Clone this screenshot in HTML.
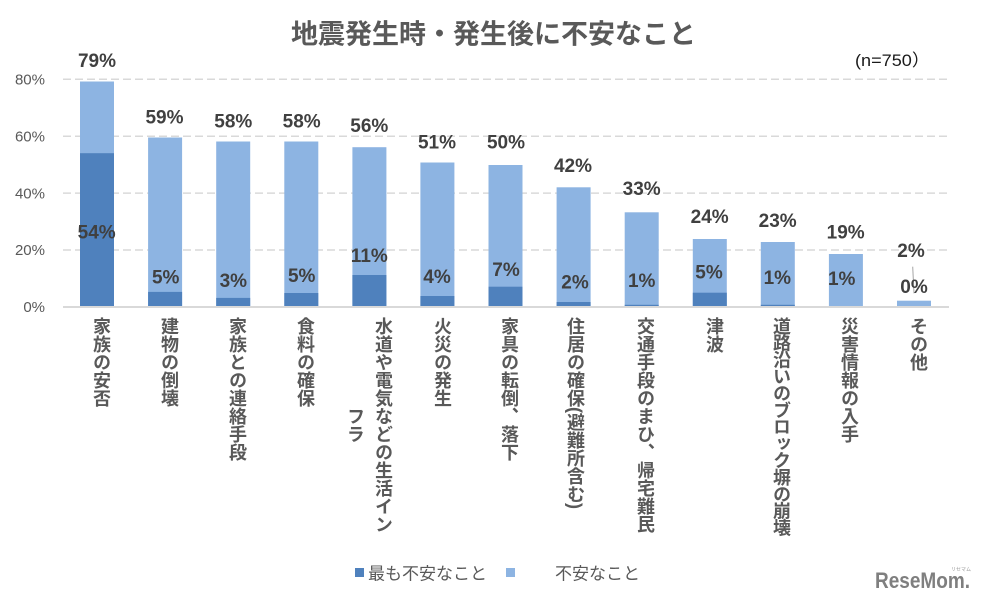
<!DOCTYPE html>
<html>
<head>
<meta charset="utf-8">
<style>
  html,body{margin:0;padding:0;background:#fff;}
  #wrap{position:relative;width:984px;height:603px;overflow:hidden;background:#fff;}
  svg{position:absolute;left:0;top:0;}
  .xl{position:absolute;top:317px;writing-mode:vertical-rl;font-family:"Liberation Sans","Noto Sans CJK JP",sans-serif;font-weight:bold;font-size:18px;line-height:28px;color:#595959;text-align:center;white-space:nowrap;width:28px;}
</style>
</head>
<body>
<div id="wrap">
<svg width="984" height="603" viewBox="0 0 984 603" xmlns="http://www.w3.org/2000/svg">
  <!-- title -->
  <text x="493.5" y="43.5" text-anchor="middle" font-family="Liberation Sans, Noto Sans CJK JP, sans-serif" font-weight="bold" font-size="27" fill="#595959">地震発生時・発生後に不安なこと</text>
  <text x="855" y="66" font-family="Liberation Sans, Noto Sans CJK JP, sans-serif" font-size="17" fill="#1a1a1a" textLength="75" lengthAdjust="spacingAndGlyphs">(n=750）</text>

  <!-- gridlines -->
  <g stroke="#D9D9D9" stroke-width="1.5" stroke-dasharray="8,4">
    <line x1="63" y1="79.3" x2="949" y2="79.3"/>
    <line x1="63" y1="136.2" x2="949" y2="136.2"/>
    <line x1="63" y1="193.1" x2="949" y2="193.1"/>
    <line x1="63" y1="250" x2="949" y2="250"/>
  </g>

  <!-- y axis labels -->
  <g font-family="Liberation Sans, sans-serif" font-size="15" fill="#595959" text-anchor="end">
    <text x="45" y="84.5">80%</text>
    <text x="45" y="141.4">60%</text>
    <text x="45" y="198.3">40%</text>
    <text x="45" y="255.2">20%</text>
    <text x="45" y="312.2">0%</text>
  </g>

  <!-- light bars (total) -->
  <g fill="#8DB4E2">
    <rect x="80.0" y="81.5" width="34" height="225.5"/>
    <rect x="148.1" y="137.5" width="34" height="169.5"/>
    <rect x="216.2" y="141.5" width="34" height="165.5"/>
    <rect x="284.3" y="141.5" width="34" height="165.5"/>
    <rect x="352.4" y="147.2" width="34" height="159.8"/>
    <rect x="420.4" y="162.5" width="34" height="144.5"/>
    <rect x="488.5" y="165" width="34" height="142"/>
    <rect x="556.6" y="187.3" width="34" height="119.7"/>
    <rect x="624.7" y="212.3" width="34" height="94.7"/>
    <rect x="692.8" y="239" width="34" height="68"/>
    <rect x="760.8" y="242" width="34" height="65"/>
    <rect x="828.9" y="254" width="34" height="53"/>
    <rect x="897.0" y="300.7" width="34" height="6.3"/>
  </g>
  <!-- dark bars (most) -->
  <g fill="#4F81BD">
    <rect x="80.0" y="153.2" width="34" height="153.8"/>
    <rect x="148.1" y="291.9" width="34" height="15.1"/>
    <rect x="216.2" y="297.9" width="34" height="9.1"/>
    <rect x="284.3" y="293.0" width="34" height="14"/>
    <rect x="352.4" y="275.0" width="34" height="32"/>
    <rect x="420.4" y="296" width="34" height="11"/>
    <rect x="488.5" y="286.7" width="34" height="20.3"/>
    <rect x="556.6" y="302" width="34" height="5"/>
    <rect x="624.7" y="304.8" width="34" height="2.2"/>
    <rect x="692.8" y="292.7" width="34" height="14.3"/>
    <rect x="760.8" y="304.8" width="34" height="2.2"/>
    <rect x="828.9" y="306" width="34" height="1"/>
  </g>

  <!-- baseline -->
  <line x1="63" y1="307" x2="949" y2="307" stroke="#D9D9D9" stroke-width="2"/>

  <!-- leader line for 0% -->
  <line x1="912.7" y1="266.7" x2="914" y2="293.3" stroke="#A6A6A6" stroke-width="1"/>

  <!-- top labels -->
  <g font-family="Liberation Sans, sans-serif" font-weight="bold" font-size="19" fill="#404040" text-anchor="middle">
    <text x="97" y="66.8">79%</text>
    <text x="164.5" y="123.5">59%</text>
    <text x="233.3" y="127.5">58%</text>
    <text x="301.7" y="127.5">58%</text>
    <text x="369.3" y="131.8">56%</text>
    <text x="437" y="148.5">51%</text>
    <text x="506" y="148.5">50%</text>
    <text x="573" y="171.8">42%</text>
    <text x="641.7" y="195.1">33%</text>
    <text x="709.7" y="222.8">24%</text>
    <text x="777.7" y="226.8">23%</text>
    <text x="845.7" y="238.5">19%</text>
    <text x="911" y="256.8">2%</text>
  </g>
  <!-- inner labels -->
  <g font-family="Liberation Sans, sans-serif" font-weight="bold" font-size="19" fill="#404040" text-anchor="middle">
    <text x="96.7" y="238.5">54%</text>
    <text x="165.7" y="283.5">5%</text>
    <text x="233.3" y="286.8">3%</text>
    <text x="301.7" y="281.8">5%</text>
    <text x="369.3" y="261.8">11%</text>
    <text x="437" y="282.8">4%</text>
    <text x="506" y="276.1">7%</text>
    <text x="575" y="288.5">2%</text>
    <text x="641.7" y="286.8">1%</text>
    <text x="709" y="278.5">5%</text>
    <text x="777.3" y="284.1">1%</text>
    <text x="841.7" y="285.1">1%</text>
    <text x="914" y="292.8">0%</text>
  </g>

  <!-- legend -->
  <rect x="355" y="568" width="9" height="9" fill="#4F81BD"/>
  <text x="368" y="579.5" font-family="Liberation Sans, Noto Sans CJK JP, sans-serif" font-size="17" fill="#595959">最も不安なこと</text>
  <rect x="506" y="568" width="9" height="9" fill="#8DB4E2"/>
  <text x="555" y="579.5" font-family="Liberation Sans, Noto Sans CJK JP, sans-serif" font-size="17" fill="#595959">不安なこと</text>

  <!-- logo -->
  <text x="875" y="588" font-family="Liberation Sans, sans-serif" font-weight="bold" font-size="22" fill="#7F7F7F" textLength="95" lengthAdjust="spacingAndGlyphs">ReseMom.</text>
  <text x="951" y="571" font-family="Liberation Sans, Noto Sans CJK JP, sans-serif" font-size="5" fill="#999">リセマム</text>
</svg>

<div class="xl" style="left:87px;">家族の安否</div>
<div class="xl" style="left:155px;">建物の倒壊</div>
<div class="xl" style="left:223px;">家族との連絡手段</div>
<div class="xl" style="left:291px;">食料の確保</div>
<div class="xl" style="left:341px;width:56px;">水道や電気などの生活イン<br>フラ</div>
<div class="xl" style="left:428px;">火災の発生</div>
<div class="xl" style="left:495px;">家具の転倒、落下</div>
<div class="xl" style="left:561px;">住居の確保(避難所含む)</div>
<div class="xl" style="left:631px;">交通手段のまひ、帰宅難民</div>
<div class="xl" style="left:700px;">津波</div>
<div class="xl" style="left:767px;letter-spacing:-1.2px;">道路沿いのブロック塀の崩壊</div>
<div class="xl" style="left:835px;">災害情報の入手</div>
<div class="xl" style="left:904px;">その他</div>
</div>
</body>
</html>
